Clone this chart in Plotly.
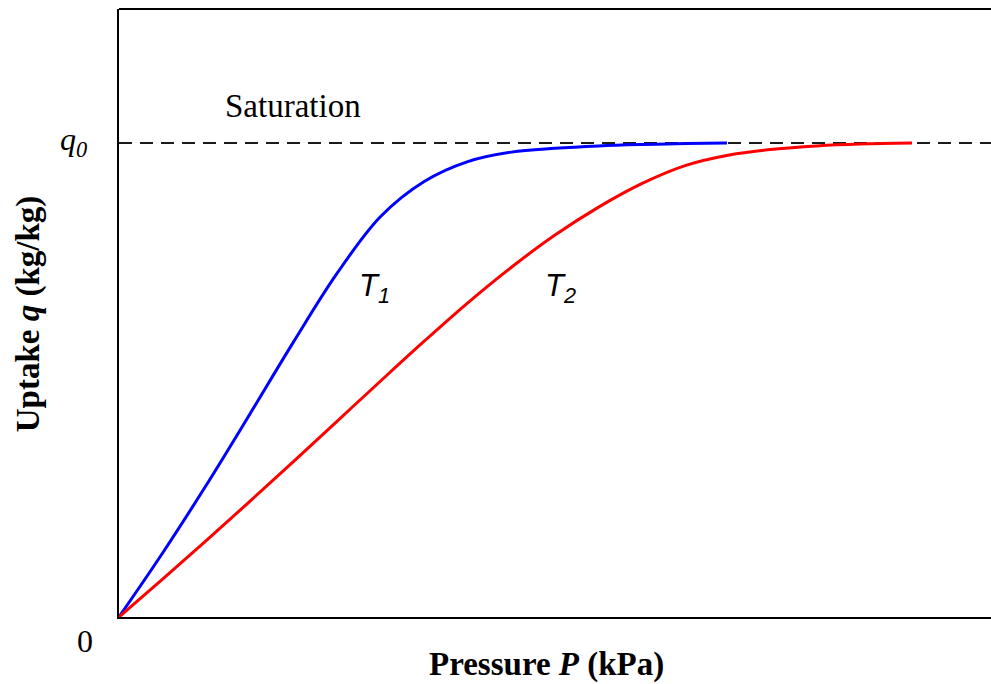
import plotly.graph_objects as go

# Adsorption isotherms: uptake vs pressure at two temperatures (arbitrary units, q normalised to q0 = 1)
p_t1 = [0, 0.5, 1.0, 1.5, 2.0, 2.5, 3.0, 3.5, 4.0, 4.5, 5.0, 5.5, 6.0, 6.5, 6.972]
q_t1 = [0, 0.135, 0.278, 0.428, 0.580, 0.725, 0.845, 0.919, 0.961, 0.981, 0.989, 0.994, 0.997, 0.999, 1.0]

p_t2 = [0, 0.5, 1.0, 1.5, 2.0, 2.5, 3.0, 3.5, 4.0, 4.5, 5.0, 5.5, 6.0, 6.5, 7.0, 7.5, 8.0, 8.5, 9.094]
q_t2 = [0, 0.080, 0.161, 0.244, 0.328, 0.413, 0.498, 0.582, 0.663, 0.738, 0.806, 0.865, 0.915, 0.953,
        0.975, 0.987, 0.994, 0.998, 1.0]

q0 = 1.0
x_max = 10.0
y_max = 1.283

serif = "Liberation Serif, Times New Roman, serif"
sans = "Liberation Sans, Arial, sans-serif"

fig = go.Figure()

# saturation level
fig.add_trace(go.Scatter(
    x=[0, x_max], y=[q0, q0], mode="lines",
    line=dict(color="#1a1a1a", width=2, dash="13px,8px"),
    hoverinfo="skip", showlegend=False, cliponaxis=False,
))

fig.add_trace(go.Scatter(
    x=p_t1, y=q_t1, mode="lines",
    line=dict(color="#0000ff", width=3, shape="spline", smoothing=1.0),
    showlegend=False,
))
fig.add_trace(go.Scatter(
    x=p_t2, y=q_t2, mode="lines",
    line=dict(color="#ff0000", width=3, shape="spline", smoothing=1.0),
    showlegend=False,
))

annotations = [
    dict(x=0, y=q0, xref="x", yref="y", text="<i>q<sub>0</sub></i>", showarrow=False,
         xanchor="right", xshift=-30, yshift=2, font=dict(family=serif, size=32, color="black")),
    dict(x=0, y=0, xref="x", yref="y", text="0", showarrow=False,
         xanchor="center", xshift=-34, yshift=-24, font=dict(family=serif, size=32, color="black")),
    dict(x=2.0, y=q0, xref="x", yref="y", text="Saturation", showarrow=False,
         yshift=37, font=dict(family=serif, size=33, color="black")),
    dict(x=2.93, y=0.695, xref="x", yref="y", text="<i>T<sub>1</sub></i>", showarrow=False,
         font=dict(family=sans, size=31, color="black")),
    dict(x=5.06, y=0.695, xref="x", yref="y", text="<i>T<sub>2</sub></i>", showarrow=False,
         font=dict(family=sans, size=31, color="black")),
    dict(x=0.49, y=0, xref="paper", yref="paper", text="<b>Pressure <i>P</i> (kPa)</b>",
         showarrow=False, yanchor="middle", yshift=-47,
         font=dict(family=serif, size=33, color="black")),
    dict(x=0, y=0.498, xref="paper", yref="paper", text="<b>Uptake <i>q</i> (kg/kg)</b>",
         showarrow=False, textangle=-90, xanchor="center", xshift=-91,
         font=dict(family=serif, size=33, color="black")),
]

fig.update_layout(
    width=991, height=684,
    margin=dict(l=119, r=0, t=9, b=67),
    paper_bgcolor="white", plot_bgcolor="white",
    annotations=annotations,
    shapes=[dict(type="line", xref="paper", yref="paper", x0=0, x1=1, y0=1, y1=1,
                 line=dict(color="black", width=2))],
    xaxis=dict(range=[0, x_max], showgrid=False, zeroline=False, showticklabels=False,
               ticks="", showline=True, linecolor="black", linewidth=2, fixedrange=True),
    yaxis=dict(range=[0, y_max], showgrid=False, zeroline=False, showticklabels=False,
               ticks="", showline=True, linecolor="black", linewidth=2, fixedrange=True),
)

fig.write_html("out.html", config={"displayModeBar": False})
